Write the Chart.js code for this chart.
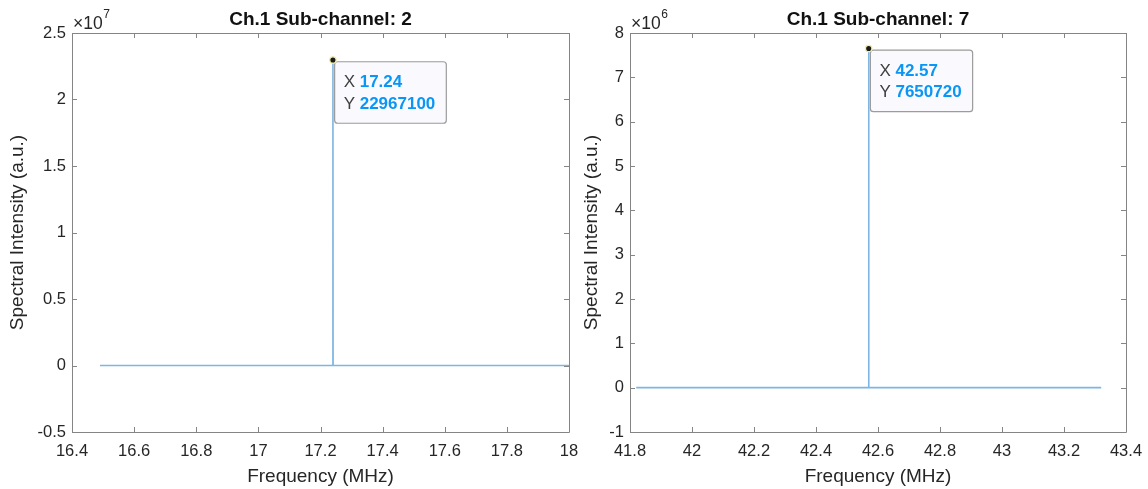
<!DOCTYPE html>
<html>
<head>
<meta charset="utf-8">
<script src="https://cdn.jsdelivr.net/npm/chart.js@4.4.1/dist/chart.umd.min.js"></script>
<style>
  html, body { margin: 0; padding: 0; background: #ffffff; }
  #wrap { position: relative; width: 1148px; height: 489px; overflow: hidden; }
  canvas { position: absolute; top: 0; }
</style>
</head>
<body>
<div id="wrap">
  <canvas id="c1" width="600" height="489" style="left:0px;width:600px;height:489px"></canvas>
  <canvas id="c2" width="574" height="489" style="left:574px;width:574px;height:489px"></canvas>
</div>
<script>
// ---------- Data ----------
const titleLeft = 'Ch.1 Sub-channel: 2';
const titleRight = 'Ch.1 Sub-channel: 7';
const xAxisTitle = 'Frequency (MHz)';
const yAxisTitle = 'Spectral Intensity (a.u.)';

// Left panel spectrum (frequency in MHz, intensity in a.u.)
const leftFreq      = [16.49, 17.2395, 17.24, 17.2405, 18.0];
const leftIntensity = [0, 0, 22967100, 0, 0];

// Right panel spectrum
const rightFreq      = [41.82, 42.5695, 42.57, 42.5705, 43.32];
const rightIntensity = [0, 0, 7650720, 0, 0];

// Axis ticks
const leftXTicks  = [16.4, 16.6, 16.8, 17, 17.2, 17.4, 17.6, 17.8, 18];
const leftXLabels = ['16.4', '16.6', '16.8', '17', '17.2', '17.4', '17.6', '17.8', '18'];
const leftYTicks  = [-5e6, 0, 5e6, 1e7, 1.5e7, 2e7, 2.5e7];
const leftYLabels = ['-0.5', '0', '0.5', '1', '1.5', '2', '2.5'];
const leftExponent = '7';

const rightXTicks  = [41.8, 42, 42.2, 42.4, 42.6, 42.8, 43, 43.2, 43.4];
const rightXLabels = ['41.8', '42', '42.2', '42.4', '42.6', '42.8', '43', '43.2', '43.4'];
const rightYTicks  = [-1e6, 0, 1e6, 2e6, 3e6, 4e6, 5e6, 6e6, 7e6, 8e6];
const rightYLabels = ['-1', '0', '1', '2', '3', '4', '5', '6', '7', '8'];
const rightExponent = '6';

// ---------- Styling ----------
const FONT = '"Liberation Sans", Arial, Helvetica, sans-serif';
const TEXT = '#262626';
const AXIS = '#858585';
const LINE = '#7db6e3';

function makePoints(xs, ys) { return xs.map((x, i) => ({ x: x, y: ys[i] })); }

const matlabPlugin = {
  id: 'matlabAxes',
  afterDraw(chart, args, opts) {
    const ctx = chart.ctx;
    const a = chart.chartArea;
    const xs = chart.scales.x, ys = chart.scales.y;
    ctx.save();
    // box
    ctx.strokeStyle = AXIS;
    ctx.lineWidth = 1;
    ctx.beginPath();
    ctx.rect(Math.round(a.left) + 0.5, Math.round(a.top) + 0.5,
             Math.round(a.right - a.left), Math.round(a.bottom - a.top));
    ctx.stroke();
    // inner ticks, all four sides
    const tl = 5;
    ctx.beginPath();
    xs.ticks.forEach(t => {
      const px = Math.round(xs.getPixelForValue(t.value)) + 0.5;
      ctx.moveTo(px, a.bottom); ctx.lineTo(px, a.bottom - tl);
      ctx.moveTo(px, a.top); ctx.lineTo(px, a.top + tl);
    });
    ys.ticks.forEach(t => {
      const py = Math.round(ys.getPixelForValue(t.value)) + 0.5;
      ctx.moveTo(a.left, py); ctx.lineTo(a.left + tl, py);
      ctx.moveTo(a.right, py); ctx.lineTo(a.right - tl, py);
    });
    ctx.stroke();

    // title (centered on the plot area)
    ctx.fillStyle = '#111111';
    ctx.font = 'bold 19px ' + FONT;
    ctx.textAlign = 'center';
    ctx.textBaseline = 'alphabetic';
    ctx.fillText(opts.title, (a.left + a.right) / 2, 24.5);

    // exponent label  x10^n
    ctx.fillStyle = TEXT;
    ctx.textAlign = 'left';
    ctx.font = '17.5px ' + FONT;
    const base = '\u00d710';
    const bx = a.left + 1;
    ctx.fillText(base, bx, 28.5);
    const bw = ctx.measureText(base).width;
    ctx.font = '12px ' + FONT;
    ctx.fillText(opts.exponent, bx + bw + 0.5, 17.5);

    // data tip at the peak
    const ds = chart.data.datasets[0].data;
    let peak = ds[0];
    ds.forEach(p => { if (p.y > peak.y) peak = p; });
    const px = xs.getPixelForValue(peak.x);
    const py = ys.getPixelForValue(peak.y);
    const fs = 17;
    ctx.font = fs + 'px ' + FONT;
    const wX = ctx.measureText('X ').width;
    const wY = ctx.measureText('Y ').width;
    ctx.font = 'bold ' + fs + 'px ' + FONT;
    const vX = peak.x.toFixed(2);
    const vY = String(Math.round(peak.y));
    const wvX = ctx.measureText(vX).width;
    const wvY = ctx.measureText(vY).width;
    const textW = Math.max(wX + wvX, wY + wvY);
    const bxl = px + 1.7, bxt = py + 1.7;
    const bwid = textW + 9 + 11, bht = 61.5;
    // box
    ctx.beginPath();
    const r = 3;
    ctx.moveTo(bxl + r, bxt);
    ctx.lineTo(bxl + bwid - r, bxt);
    ctx.arcTo(bxl + bwid, bxt, bxl + bwid, bxt + r, r);
    ctx.lineTo(bxl + bwid, bxt + bht - r);
    ctx.arcTo(bxl + bwid, bxt + bht, bxl + bwid - r, bxt + bht, r);
    ctx.lineTo(bxl + r, bxt + bht);
    ctx.arcTo(bxl, bxt + bht, bxl, bxt + bht - r, r);
    ctx.lineTo(bxl, bxt + r);
    ctx.arcTo(bxl, bxt, bxl + r, bxt, r);
    ctx.closePath();
    ctx.fillStyle = '#f9f9fe';
    ctx.fill();
    ctx.strokeStyle = '#9c9c9c';
    ctx.lineWidth = 1.2;
    ctx.stroke();
    // text
    ctx.textBaseline = 'middle';
    ctx.textAlign = 'left';
    const tx = bxl + 9;
    const l1 = bxt + 21, l2 = bxt + 42.5;
    ctx.font = fs + 'px ' + FONT;
    ctx.fillStyle = '#404040';
    ctx.fillText('X ', tx, l1);
    ctx.fillText('Y ', tx, l2);
    ctx.font = 'bold ' + fs + 'px ' + FONT;
    ctx.fillStyle = '#0a96f5';
    ctx.fillText(vX, tx + wX, l1);
    ctx.fillText(vY, tx + wY, l2);
    // marker
    ctx.beginPath();
    ctx.arc(px, py, 3.2, 0, Math.PI * 2);
    ctx.fillStyle = '#1a1a1a';
    ctx.fill();
    ctx.strokeStyle = '#f3efa8';
    ctx.lineWidth = 1.3;
    ctx.stroke();
    ctx.restore();
  }
};

function buildChart(canvasId, cfg) {
  return new Chart(document.getElementById(canvasId), {
    type: 'scatter',
    data: {
      datasets: [{
        data: makePoints(cfg.xs, cfg.ys),
        showLine: true,
        borderColor: LINE,
        backgroundColor: LINE,
        borderWidth: 1.6,
        pointRadius: 0,
        tension: 0
      }]
    },
    options: {
      responsive: false,
      animation: false,
      devicePixelRatio: 1,
      layout: { padding: { top: 33, right: cfg.padRight, left: 0, bottom: 0 } },
      plugins: {
        legend: { display: false },
        tooltip: { enabled: false },
        title: { display: false },
        matlabAxes: { title: cfg.title, exponent: cfg.exponent }
      },
      scales: {
        x: {
          type: 'linear',
          min: cfg.xTicks[0],
          max: cfg.xTicks[cfg.xTicks.length - 1],
          afterBuildTicks: s => { s.ticks = cfg.xTicks.map(v => ({ value: v })); },
          afterFit: s => { s.height = 57; s.paddingLeft = 0; s.paddingRight = 0; },
          grid: { display: false, drawTicks: false },
          border: { display: false },
          ticks: {
            autoSkip: false, maxRotation: 0, padding: 10,
            color: TEXT, font: { family: FONT, size: 16.5 },
            callback: (v, i) => cfg.xLabels[i]
          },
          title: {
            display: true, text: xAxisTitle, color: TEXT,
            font: { family: FONT, size: 19 }, padding: { top: 0, bottom: 1 }
          }
        },
        y: {
          type: 'linear',
          min: cfg.yTicks[0],
          max: cfg.yTicks[cfg.yTicks.length - 1],
          afterBuildTicks: s => { s.ticks = cfg.yTicks.map(v => ({ value: v })); },
          afterFit: s => { s.width = cfg.yWidth; s.paddingTop = 0; s.paddingBottom = 0; },
          grid: { display: false, drawTicks: false },
          border: { display: false },
          ticks: {
            autoSkip: false, padding: 6,
            color: TEXT, font: { family: FONT, size: 16.5 },
            callback: (v, i) => cfg.yLabels[i]
          },
          title: {
            display: true, text: yAxisTitle, color: TEXT,
            font: { family: FONT, size: 19 }, padding: { top: 6.5, bottom: 0 }
          }
        }
      }
    },
    plugins: [matlabPlugin]
  });
}

buildChart('c1', {
  xs: leftFreq, ys: leftIntensity,
  xTicks: leftXTicks, xLabels: leftXLabels,
  yTicks: leftYTicks, yLabels: leftYLabels,
  title: titleLeft, exponent: leftExponent,
  yWidth: 72, padRight: 31
});

buildChart('c2', {
  xs: rightFreq, ys: rightIntensity,
  xTicks: rightXTicks, xLabels: rightXLabels,
  yTicks: rightYTicks, yLabels: rightYLabels,
  title: titleRight, exponent: rightExponent,
  yWidth: 56, padRight: 22
});
</script>
</body>
</html>
